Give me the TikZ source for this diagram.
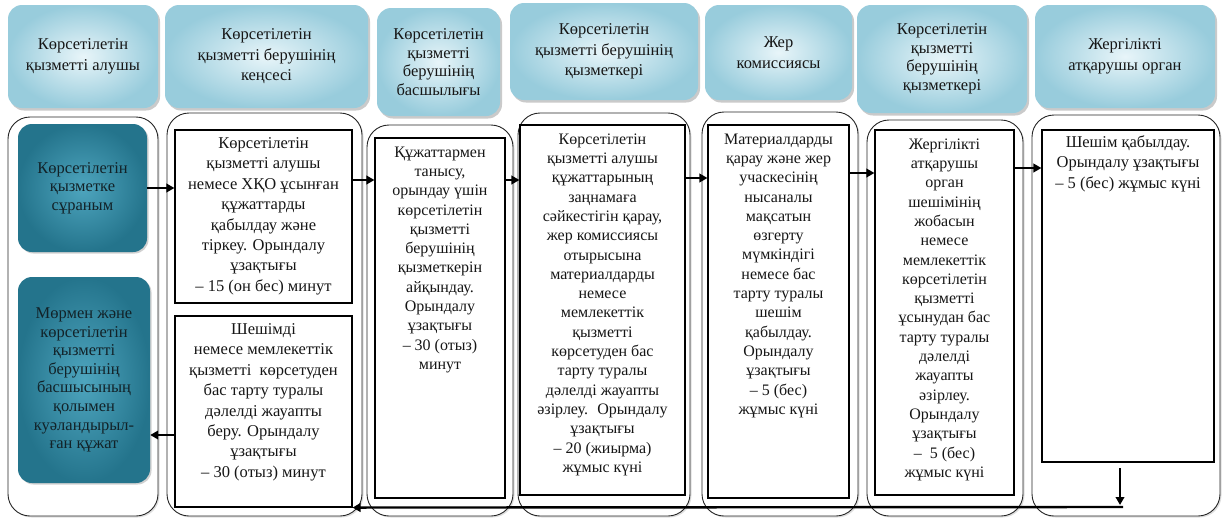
\documentclass[tikz,border=0pt]{standalone}
\usepackage{fontspec}
\setmainfont{Liberation Serif}
\newfontfamily\kzf{Liberation Serif}
\usetikzlibrary{arrows.meta,shadows,calc}
\definecolor{hdrA}{RGB}{232,245,249}
\definecolor{hdrB}{RGB}{152,204,220}
\definecolor{tealA}{RGB}{78,165,190}
\definecolor{tealB}{RGB}{36,116,140}
\definecolor{txt}{RGB}{22,22,22}
\definecolor{tealtxt}{RGB}{18,34,40}
\begin{document}
\begin{tikzpicture}[x=1pt,y=-1pt,
  hdr/.style={rounded corners=14pt, inner color=hdrA, outer color=hdrB,
    drop shadow={shadow xshift=2pt, shadow yshift=-2.5pt, opacity=0.35, fill=black!60},
    align=center, text=txt, inner sep=0pt,
    font=\kzf\fontsize{16.5}{20.5}\selectfont},
  lanebox/.style={draw=black!85, line width=0.9pt, rounded corners=22pt, fill=white,
    drop shadow={shadow xshift=1.5pt, shadow yshift=-1.5pt, opacity=0.25, fill=black!50}},
  procbox/.style={draw=black, line width=1.1pt, fill=white, inner sep=0pt},
  tealbox/.style={rounded corners=14pt, inner color=tealA, outer color=tealB,
    drop shadow={shadow xshift=1.5pt, shadow yshift=-1.5pt, opacity=0.3, fill=black!60},
    align=center, text=tealtxt, inner sep=0pt,
    font=\kzf\fontsize{16.5}{18.6}\selectfont},
  btxt/.style={align=center, text=txt, inner sep=0pt, anchor=north,
    font=\kzf\fontsize{16}{19.3}\selectfont},
  btxtw/.style={btxt, font=\kzf\fontsize{16.5}{20.4}\selectfont},
  arr/.style={line width=2.4pt, -{Triangle[length=8pt,width=8.5pt]}}
]
\useasboundingbox (0,0) rectangle (1223,520);

% headers
\node[hdr, minimum width=150, minimum height=103] (h1) at (83,56.5) {Көрсетілетін\\қызметті алушы};
\node[hdr, minimum width=203, minimum height=103] (h2) at (266.5,56.5) {Көрсетілетін\\қызметті берушінің\\кеңсесі};
\node[hdr, minimum width=123, minimum height=108, font=\kzf\fontsize{16.5}{18.5}\selectfont] (h3) at (438.5,62) {Көрсетілетін\\қызметті\\берушінің\\басшылығы};
\node[hdr, minimum width=188, minimum height=97] (h4) at (604,51.5) {Көрсетілетін\\қызметті берушінің\\қызметкері};
\node[hdr, minimum width=147, minimum height=95] (h5) at (778.5,52.5) {Жер\\комиссиясы};
\node[hdr, minimum width=170, minimum height=108, font=\kzf\fontsize{16.5}{18.5}\selectfont] (h6) at (942,59) {Көрсетілетін\\қызметті\\берушінің\\қызметкері};
\node[hdr, minimum width=180, minimum height=103] (h7) at (1125,56.5) {Жергілікті\\атқарушы орган};

% lanes
\node[lanebox, minimum width=150, minimum height=399] (l1) at (83,316.5) {};
\node[lanebox, minimum width=195, minimum height=403] (l2) at (264.5,314.5) {};
\node[lanebox, minimum width=146, minimum height=391] (l3) at (440,320.5) {};
\node[lanebox, minimum width=172, minimum height=403] (l4) at (604,314.5) {};
\node[lanebox, minimum width=156, minimum height=404] (l5) at (780,314) {};
\node[lanebox, minimum width=156, minimum height=396] (l6) at (945,318) {};
\node[lanebox, minimum width=188, minimum height=401] (l7) at (1126,315.5) {};

% teal boxes
\node[tealbox, minimum width=129, minimum height=128] (t1) at (82.5,188) {Көрсетілетін\\қызметке\\сұраным};
\node[tealbox, minimum width=132, minimum height=206] (t2) at (84,380) {Мөрмен және\\көрсетілетін\\қызметті\\берушінің\\басшысының\\қолымен\\куәландырыл-\\ған құжат};

% process boxes
\node[procbox, minimum width=177, minimum height=173] (bA) at (263.5,216.5) {};
\node[procbox, minimum width=177, minimum height=191] (bB) at (263.5,411.5) {};
\node[procbox, minimum width=130, minimum height=360] (b3) at (440,318) {};
\node[procbox, minimum width=165, minimum height=370] (b4) at (602.5,310) {};
\node[procbox, minimum width=141, minimum height=373] (b5) at (778.5,311.5) {};
\node[procbox, minimum width=139, minimum height=365] (b6) at (944.5,312.5) {};
\node[procbox, minimum width=172, minimum height=332] (b7) at (1128,296) {};

\node[btxtw] (tA) at ([yshift=-8pt]bA.north) {Көрсетілетін\\қызметті алушы\\немесе ХҚО ұсынған\\құжаттарды\\қабылдау және\\тіркеу. Орындалу\\ұзақтығы\\– 15 (он бес) минут};
\node[btxtw] (tB) at ([yshift=-8pt]bB.north) {Шешімді\\немесе мемлекеттік\\қызметті \ көрсетуден\\бас тарту туралы\\дәлелді жауапты\\беру. Орындалу\\ұзақтығы\\– 30 (отыз) минут};
\node[btxt] (t3) at ([yshift=-9pt]b3.north) {Құжаттармен\\танысу,\\орындау үшін\\көрсетілетін\\қызметті\\берушінің\\қызметкерін\\айқындау.\\Орындалу\\ұзақтығы\\– 30 (отыз)\\минут};
\node[btxt] (t4) at ([yshift=-9pt]b4.north) {Көрсетілетін\\қызметті алушы\\құжаттарының\\заңнамаға\\сәйкестігін қарау,\\жер комиссиясы\\отырысына\\материалдарды\\немесе\\мемлекеттік\\қызметті\\көрсетуден бас\\тарту туралы\\дәлелді жауапты\\әзірлеу. \ Орындалу\\ұзақтығы\\– 20 (жиырма)\\жұмыс күні};
\node[btxt] (t5) at ([yshift=-9pt]b5.north) {Материалдарды\\қарау және жер\\учаскесінің\\нысаналы\\мақсатын\\өзгерту\\мүмкіндігі\\немесе бас\\тарту туралы\\шешім\\қабылдау.\\Орындалу\\ұзақтығы\\– 5 (бес)\\жұмыс күні};
\node[btxt] (t6) at ([yshift=-9pt]b6.north) {Жергілікті\\атқарушы\\орган\\шешімінің\\жобасын\\немесе\\мемлекеттік\\көрсетілетін\\қызметті\\ұсынудан бас\\тарту туралы\\дәлелді\\жауапты\\әзірлеу.\\Орындалу\\ұзақтығы\\– \ 5 (бес)\\жұмыс күні};
\node[btxtw] (t7) at ([yshift=-6pt]b7.north) {Шешім қабылдау.\\Орындалу ұзақтығы\\– 5 (бес) жұмыс күні};

% connectors
\coordinate (r2) at (0,180);
\coordinate (r3) at (0,180);
\coordinate (r4) at (0,178);
\coordinate (r5) at (0,173);
\coordinate (r6) at (0,168);
\coordinate (r9) at (0,435);
\coordinate (d1) at (1120,468);
\coordinate (d2) at (1120,505);
\coordinate (d3) at (1123,507);

\draw[arr] (t1.east) -- (t1.east -| bA.west);
\draw[arr] (bA.east |- r2) -- (b3.west |- r2);
\draw[arr] (b3.east |- r3) -- (b4.west |- r3);
\draw[arr] (b4.east |- r4) -- (b5.west |- r4);
\draw[arr] (b5.east |- r5) -- (b6.west |- r5);
\draw[arr] (b6.east |- r6) -- (b7.west |- r6);
\draw[arr] (d1) -- (d2);
\draw[arr] (d3) -- (bB.south east);
\draw[arr] (bB.west |- r9) -- (t2.east |- r9);
\end{tikzpicture}
\end{document}
